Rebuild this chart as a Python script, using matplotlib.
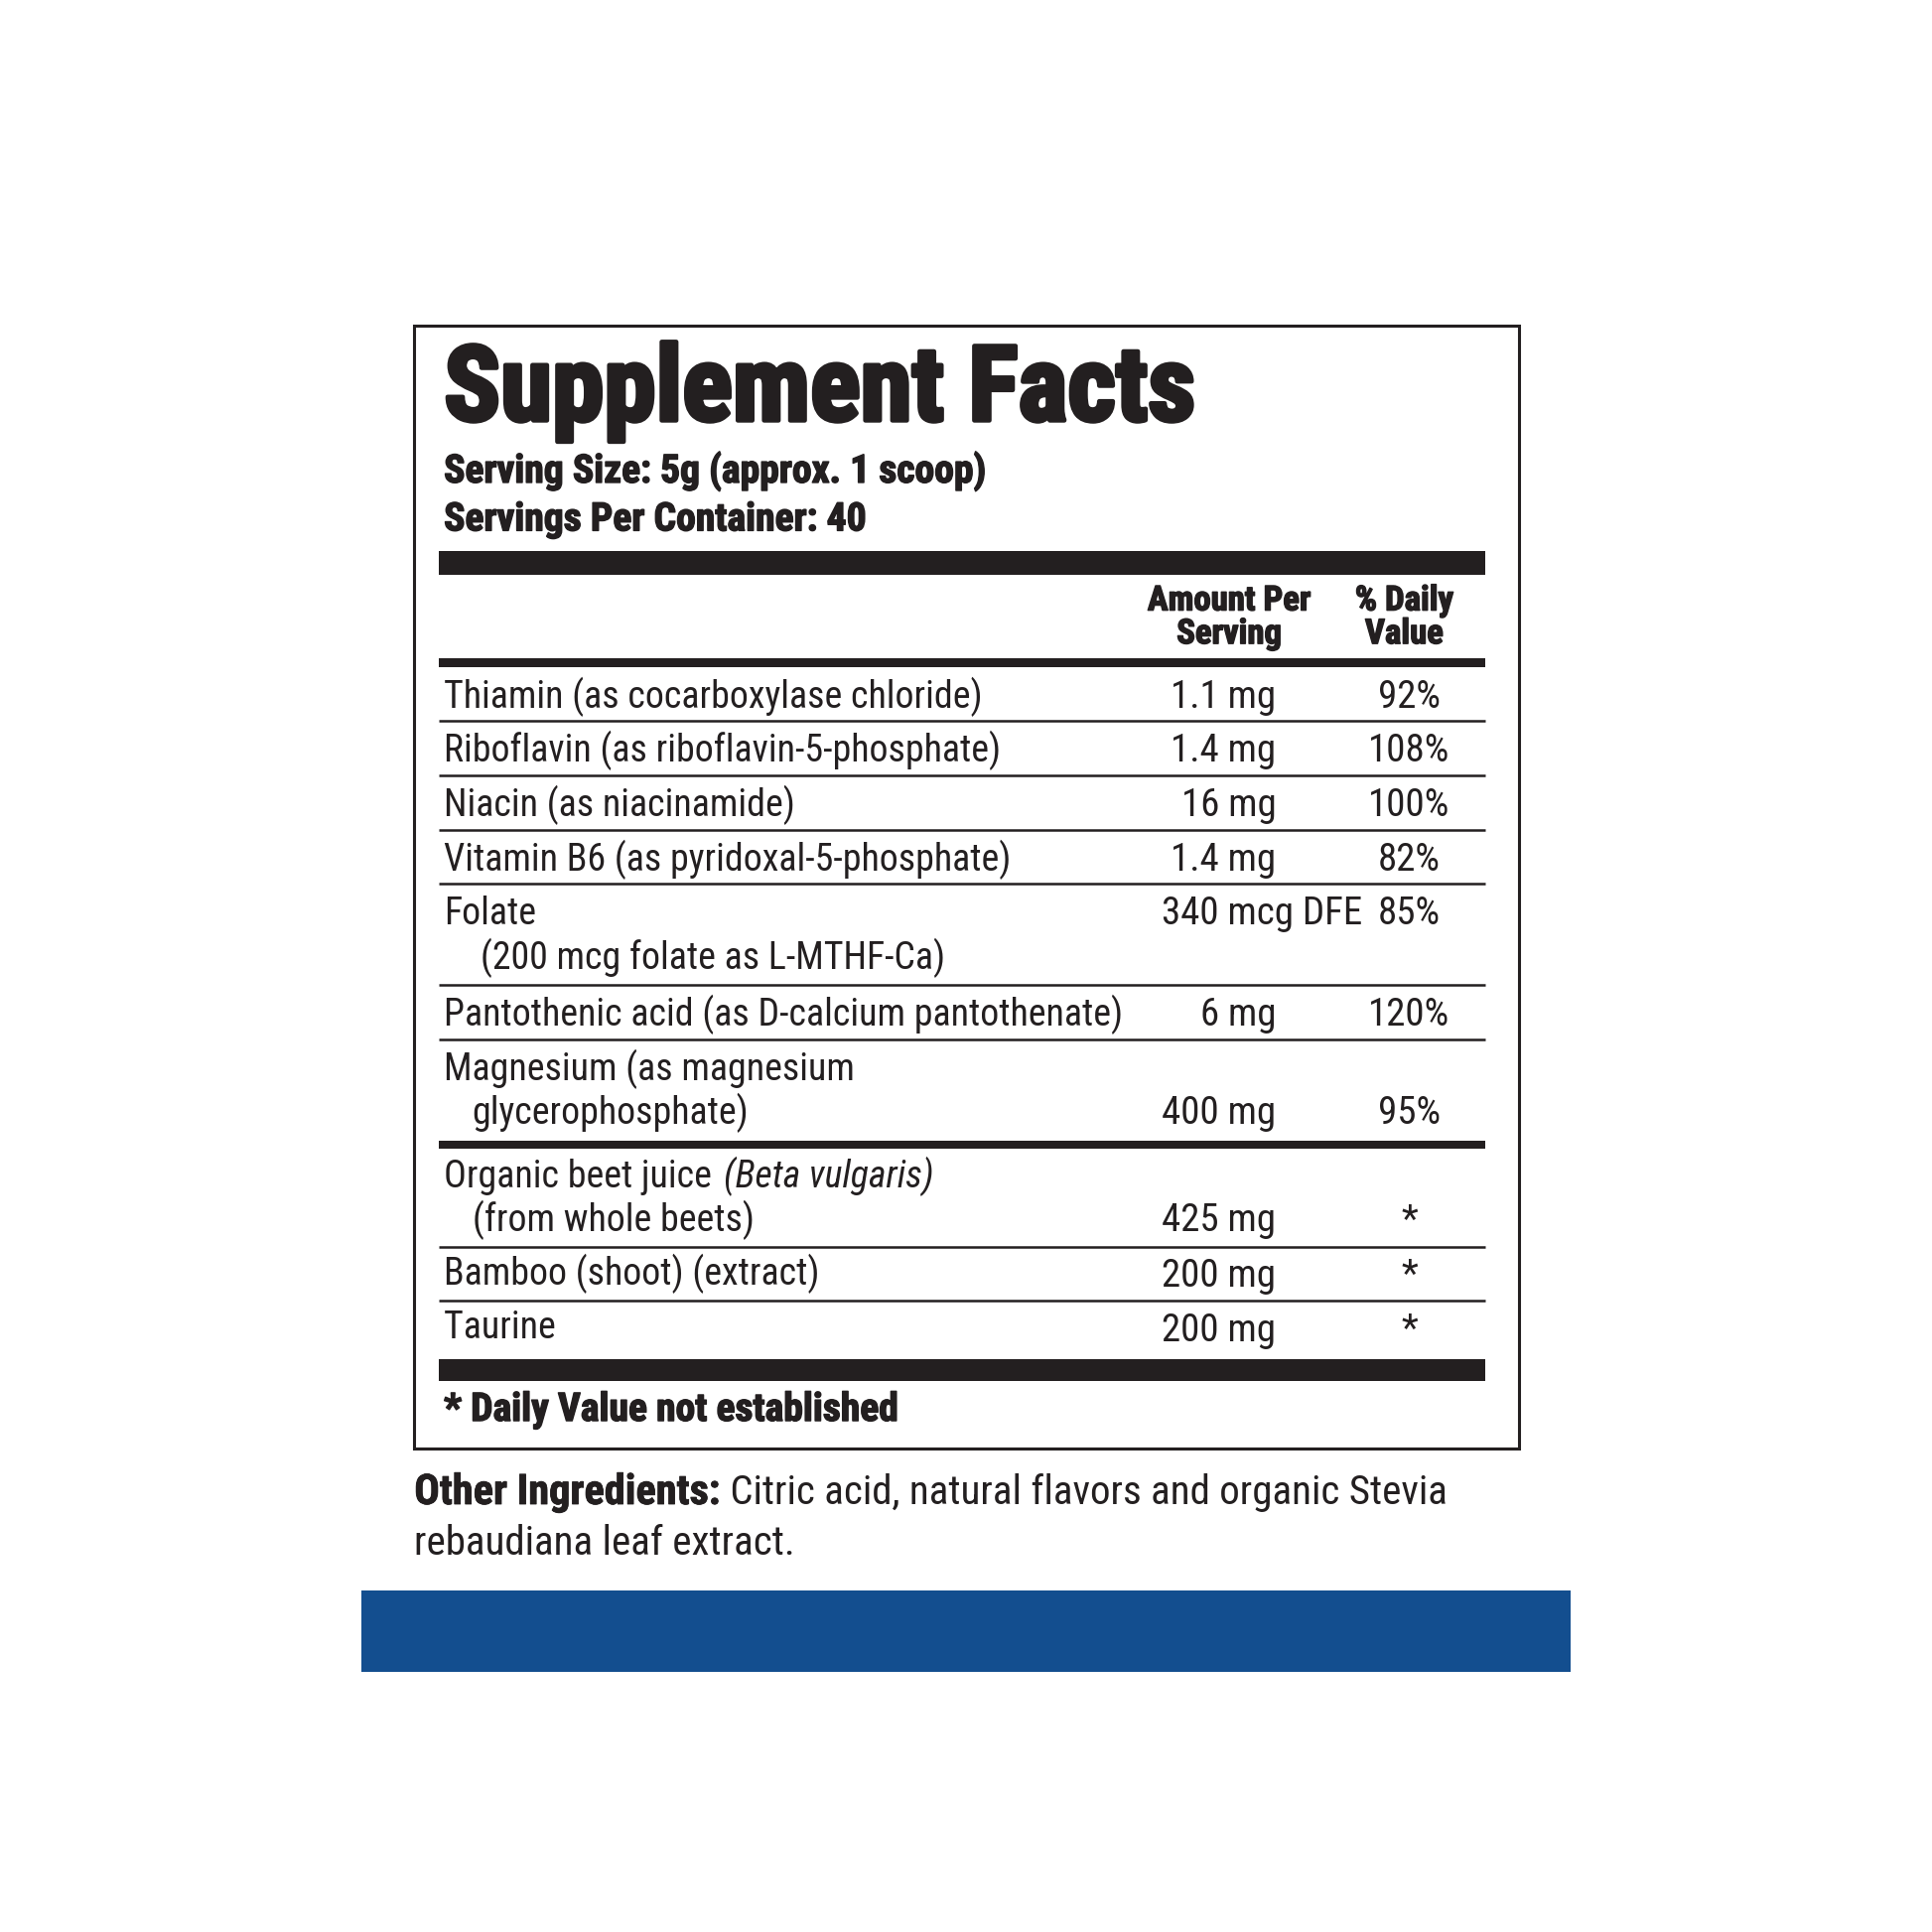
import matplotlib
matplotlib.use("Agg")
import matplotlib.pyplot as plt
from matplotlib.patches import Rectangle
import matplotlib.patheffects as pe

INK = '#231f20'
BLUE = '#134e8f'
FONT = ['Roboto Condensed', 'DejaVu Sans']

# chart content
title = 'Supplement Facts'
serving_size = 'Serving Size: 5g (approx. 1 scoop)'
servings_per = 'Servings Per Container: 40'
col_amount = ['Amount Per', 'Serving']
col_dv = ['% Daily', 'Value']

nutrient_lines = [
    ['Thiamin (as cocarboxylase chloride)'],
    ['Riboflavin (as riboflavin-5-phosphate)'],
    ['Niacin (as niacinamide)'],
    ['Vitamin B6 (as pyridoxal-5-phosphate)'],
    ['Folate', '(200 mcg folate as L-MTHF-Ca)'],
    ['Pantothenic acid (as D-calcium pantothenate)'],
    ['Magnesium (as magnesium', 'glycerophosphate)'],
]
amounts = ['1.1 mg', '1.4 mg', '16 mg', '1.4 mg', '340 mcg DFE', '6 mg', '400 mg']
daily_values = ['92%', '108%', '100%', '82%', '85%', '120%', '95%']
value_line = [0, 0, 0, 0, 0, 0, 1]

other_names = ['Organic beet juice', 'Bamboo (shoot) (extract)', 'Taurine']
other_italic = ['(Beta vulgaris)', '', '']
other_second = ['(from whole beets)', '', '']
other_amounts = ['425 mg', '200 mg', '200 mg']
other_dv = ['*', '*', '*']

footnote = '* Daily Value not established'
other_label = 'Other Ingredients:'
other_text_1 = ' Citric acid, natural flavors and organic Stevia'
other_text_2 = 'rebaudiana leaf extract.'

# layout in reference pixel space
W = 1567
L, R = 356, 1205
X_TEXT = 360
X_AMT = 1035
X_DV = 1143
ROW1, ROW2 = 44, 82
FS = 27.3
FS_NUM = 28

fig = plt.figure(figsize=(19.46, 19.46), dpi=100)
ax = fig.add_axes([0, 0, 1, 1])
ax.set_xlim(0, W)
ax.set_ylim(W, 0)
ax.axis('off')

pt = 100 / 72 * W / 1946   # one point in reference pixels


def bar(y0, y1, x0=L, x1=R, color=INK):
    ax.add_patch(Rectangle((x0, y0), x1 - x0, y1 - y0, color=color, lw=0))


def txt(x, y, s, size=FS, weight='normal', style='normal', ha='left', stroke=0):
    t = ax.text(x, y, s, fontsize=size, fontweight=weight, fontstyle=style, ha=ha,
                va='baseline', color=INK, family=FONT)
    if stroke:
        t.set_path_effects([pe.withStroke(linewidth=stroke, foreground=INK)])
    return t


def base(center, size=FS):
    # baseline for a given visual centre of capitals
    return center + size * pt * 0.711 / 2


# outer box
ax.add_patch(Rectangle((336, 264), 1232 - 336, 1175 - 264, fill=False, ec=INK, lw=2.2))

txt(X_TEXT, 341, title, size=76, weight='bold', stroke=3.2)
txt(X_TEXT, base(380, 28.5), serving_size, size=28.5, weight='bold', stroke=1.0)
txt(X_TEXT, base(419, 28.5), servings_per, size=28.5, weight='bold', stroke=1.0)

bar(447, 466)
for x, (a, b) in [(997, col_amount), (1139, col_dv)]:
    txt(x, base(485, 25), a, size=25, weight='bold', ha='center', stroke=1.0)
    txt(x, base(512, 25), b, size=25, weight='bold', ha='center', stroke=1.0)
bar(534, 541)

y = 541
for lines, amt, dv, vl in zip(nutrient_lines, amounts, daily_values, value_line):
    h = ROW1 if len(lines) == 1 else ROW2
    txt(X_TEXT, base(y + 22), lines[0])
    if len(lines) > 1:
        txt(X_TEXT + (30 if lines[1].startswith('(200') else 23), base(y + 58), lines[1])
    vy = base(y + 22 + 36 * vl)
    if 'DFE' in amt:
        txt(942, vy, amt, size=FS_NUM)
    else:
        txt(X_AMT, vy, amt, size=FS_NUM, ha='right')
    txt(X_DV, vy, dv, size=FS_NUM, ha='center')
    y += h
    if y < 900:
        ax.hlines(y, L, R, color=INK, lw=1.8)

bar(y, y + 7)
y += 7

fig.canvas.draw()
renderer = fig.canvas.get_renderer()
inv = ax.transData.inverted()

for name, ital, sec, amt, dv in zip(other_names, other_italic, other_second, other_amounts, other_dv):
    h = ROW2 - 3 if sec else ROW1
    t = txt(X_TEXT, base(y + 20), name + ' ')
    if ital:
        bb = t.get_window_extent(renderer)
        x_end = inv.transform((bb.x1, bb.y0))[0]
        txt(x_end + 3, base(y + 20), ital, style='italic')
    line_off = 56 if sec else 22
    if sec:
        txt(X_TEXT + 23, base(y + 56), sec)
    vy = base(y + line_off)
    txt(X_AMT, vy, amt, size=FS_NUM, ha='right')
    txt(X_DV, vy, dv, size=FS_NUM, ha='center')
    y += h
    if name != other_names[-1]:
        ax.hlines(y, L, R, color=INK, lw=1.8)

bar(1102, 1120)
txt(X_TEXT, base(1141, 28.5), footnote, size=28.5, weight='bold', stroke=1.0)

t = txt(336, base(1208, 30), other_label, size=30.5, weight='bold', stroke=0.6)
bb = t.get_window_extent(renderer)
x_end = inv.transform((bb.x1, bb.y0))[0]
txt(x_end, base(1208, 30), other_text_1, size=29.5)
txt(336, base(1249, 30), other_text_2, size=29.5)

bar(1290, 1356, 293, 1274, color=BLUE)

fig.savefig('out.png', dpi=100, facecolor='white')
